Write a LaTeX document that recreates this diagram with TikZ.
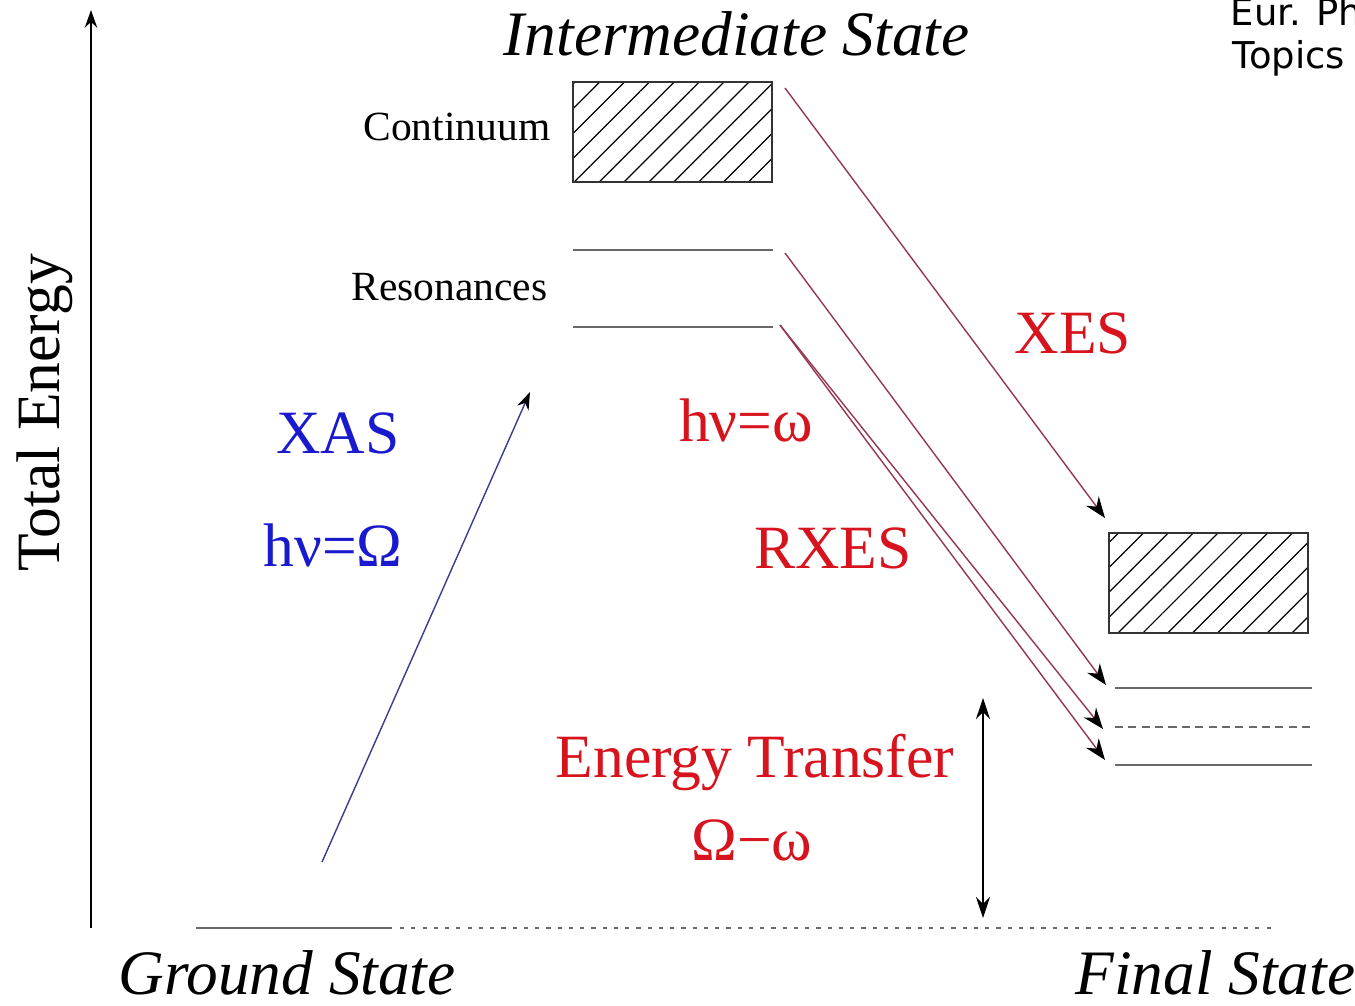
\documentclass[tikz,border=0pt]{standalone}
\usepackage{fontspec}
\setmainfont{Liberation Serif}
\newfontfamily\notefont{DejaVu Sans}
\usetikzlibrary{arrows.meta, patterns.meta, positioning}
\definecolor{xred}{RGB}{215,20,30}
\definecolor{xblue}{RGB}{25,25,205}
\definecolor{emline}{RGB}{150,55,80}
\definecolor{absline}{RGB}{60,60,140}
\definecolor{levelgray}{RGB}{105,105,105}
\tikzset{
  level/.style={draw=levelgray, line width=0.6pt},
  band/.style={rectangle, draw=black!80, line width=0.6pt,
               pattern={Lines[angle=45,distance=5pt,line width=0.35pt]},
               minimum width=1.99cm, minimum height=1cm, inner sep=0pt},
  emis/.style={draw=emline, line width=0.4pt, -{Stealth[length=6pt, width=4.5pt, color=black]}},
  absn/.style={draw=absline, line width=0.4pt, -{Stealth[length=5pt, width=3.5pt, color=black]}},
  big/.style={font=\fontsize{17.5}{20}\selectfont, inner sep=0pt},
  bigit/.style={font=\fontsize{18}{20}\selectfont\itshape, inner sep=0pt},
  small/.style={font=\fontsize{11.8}{14}\selectfont, inner sep=0pt},
}
\begin{document}
\begin{tikzpicture}[x=0.01cm, y=-0.01cm]
\useasboundingbox (0,0) rectangle (1355,1005);
% energy axis
\coordinate (axisbot) at (91,928);
\coordinate (axistop) at (91,10);
\draw[line width=0.6pt, -{Stealth[length=5pt, width=3.5pt]}] (axisbot) -- (axistop);
\node[big, rotate=90] (etot) at (45,413) {Total Energy};

% column titles
\node[bigit, anchor=base west] (inter) at (503,55) {Intermediate State};
\node[bigit, anchor=base west] (ground) at (118,994) {Ground State};
\node[bigit, anchor=base west] (final) at (1075,994) {Final State};

% intermediate state
\node[band] (cont) at (672.5,132) {};
\node[small, anchor=east] (contlab) at (551,127) {Continuum};
\coordinate (resAw) at (573,250);
\coordinate (resAe) at (773,250);
\coordinate (resBw) at (573,327);
\coordinate (resBe) at (773,327);
\draw[level] (resAw) -- (resAe);
\draw[level] (resBw) -- (resBe);
\node[small, anchor=east] (reslab) at (548,287) {Resonances};

% ground state
\coordinate (gsw) at (196,928);
\coordinate (gse) at (392,928);
\coordinate (gsref) at (1272,928);
\draw[level] (gsw) -- (gse);
\draw[draw=levelgray, line width=0.5pt, dash pattern=on 1.2pt off 2pt] (400,928) -- (gsref);

% final state
\node[band] (fcont) at (1208.5,583) {};
\coordinate (fAw) at (1115,688);
\coordinate (fAe) at (1312,688);
\coordinate (fBw) at (1115,727);
\coordinate (fBe) at (1315,727);
\coordinate (fCw) at (1115,765);
\coordinate (fCe) at (1312,765);
\draw[level] (fAw) -- (fAe);
\draw[draw=levelgray, line width=0.6pt, dash pattern=on 2.3pt off 1.5pt] (fBw) -- (fBe);
\draw[level] (fCw) -- (fCe);

% absorption
\coordinate (xasfrom) at (322,862);
\coordinate (xasto) at (530,392);
\draw[absn] (xasfrom) -- (xasto);
\node[big, text=xblue] (xas) at (338,433) {XAS};
\node[big, text=xblue] (omegabig) at (333,545) {hν=Ω};

% emission
\draw[emis] (785,88) -- (1105,518);
\draw[emis] (785,253) -- (1106,685);
\draw[emis] (780,325) -- (1103,729);
\draw[emis] (780,325) -- (1105,760);
\node[big, text=xred] (xes) at (1073,333) {XES};
\node[big, text=xred] (rxes) at (833,548) {RXES};
\node[big, text=xred] (omegasm) at (746,420) {hν=ω};

% energy transfer
\coordinate (ettop) at (983,698);
\coordinate (etbot) at (983,918);
\draw[line width=0.6pt, {Stealth[length=6pt, width=4pt]}-{Stealth[length=6pt, width=4pt]}] (etbot) -- (ettop);
\node[big, text=xred] (etlab) at (755,762) {Energy Transfer};
\node[big, text=xred] (etval) at (752,840) {Ω−ω};

% reference note
\node[font=\notefont\fontsize{10.5}{12}\selectfont, anchor=base west, inner sep=0pt] (note1) at (1230,25) {Eur. Phys.};
\node[font=\notefont\fontsize{10.5}{12}\selectfont, anchor=base west, inner sep=0pt] (note2) at (1232,68) {Topics};
\end{tikzpicture}
\end{document}
